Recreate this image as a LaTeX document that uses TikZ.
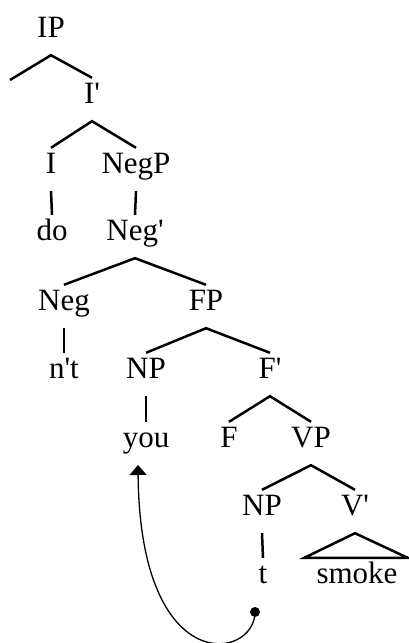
\documentclass[tikz,border=0pt]{standalone}
\usepackage{fontspec}
\setmainfont{Liberation Serif}
\usetikzlibrary{arrows.meta}
\newcommand{\myq}{\textquotesingle}
\begin{document}
\begin{tikzpicture}[x=1pt,y=-1pt,
  lab/.style={anchor=base, font=\fontsize{31}{37}\selectfont, text height=20pt, text depth=13pt, inner xsep=0pt, inner ysep=5pt},
  br/.style={line width=2.5pt},
  mv/.style={line width=1.3pt}]
\useasboundingbox (0,0) rectangle (409,643);
% labels
\node[lab] (IP) at (51,37) {IP};
\node[lab] (Ibar) at (92,103) {I\myq};
\node[lab] (I) at (51,173) {I};
\node[lab] (NegP) at (136,173) {NegP};
\node[lab] (do) at (52,240) {do};
\node[lab] (Negbar) at (135,240) {Neg\myq};
\node[lab] (Neg) at (64,310) {Neg};
\node[lab] (FP) at (206,310) {FP};
\node[lab] (nt) at (64,378) {n\myq t};
\node[lab] (NP1) at (146,378) {NP};
\node[lab] (Fbar) at (270,378) {F\myq};
\node[lab] (you) at (146,447) {you};
\node[lab] (F) at (229,447) {F};
\node[lab] (VP) at (311,447) {VP};
\node[lab] (NP2) at (262,515) {NP};
\node[lab] (Vbar) at (355,515) {V\myq};
\node[lab] (t) at (263,583) {t};
\node[lab] (smoke) at (357,583) {smoke};
\coordinate (spec) at (10,80);
% branches
\draw[br] (spec) -- (IP.south) -- (Ibar.north);
\draw[br] (I.north) -- (Ibar.south) -- (NegP.north);
\draw[br] (I.south) -- (do.north);
\draw[br] (NegP.south) -- (Negbar.north);
\draw[br] (Neg.north) -- (Negbar.south) -- (FP.north);
\draw[br] (Neg.south) -- (nt.north);
\draw[br] (NP1.north) -- (FP.south) -- (Fbar.north);
\draw[br] (NP1.south) -- (you.north);
\draw[br] (F.north) -- (Fbar.south) -- (VP.north);
\draw[br] (NP2.north) -- (VP.south) -- (Vbar.north);
\draw[br] (NP2.south) -- (t.north);
\draw[br] (Vbar.south) -- ([xshift=-12pt]smoke.north west) -- ([xshift=10pt]smoke.north east) -- cycle;
% movement
\node[circle, fill, inner sep=0pt, minimum size=10pt] (dot) at (255,612) {};
\coordinate (land) at (138,465);
\draw[mv, -{Triangle[width=17pt,length=10pt]}] (dot.center) .. controls (255,660) and (140,680) .. (land);
\end{tikzpicture}
\end{document}
